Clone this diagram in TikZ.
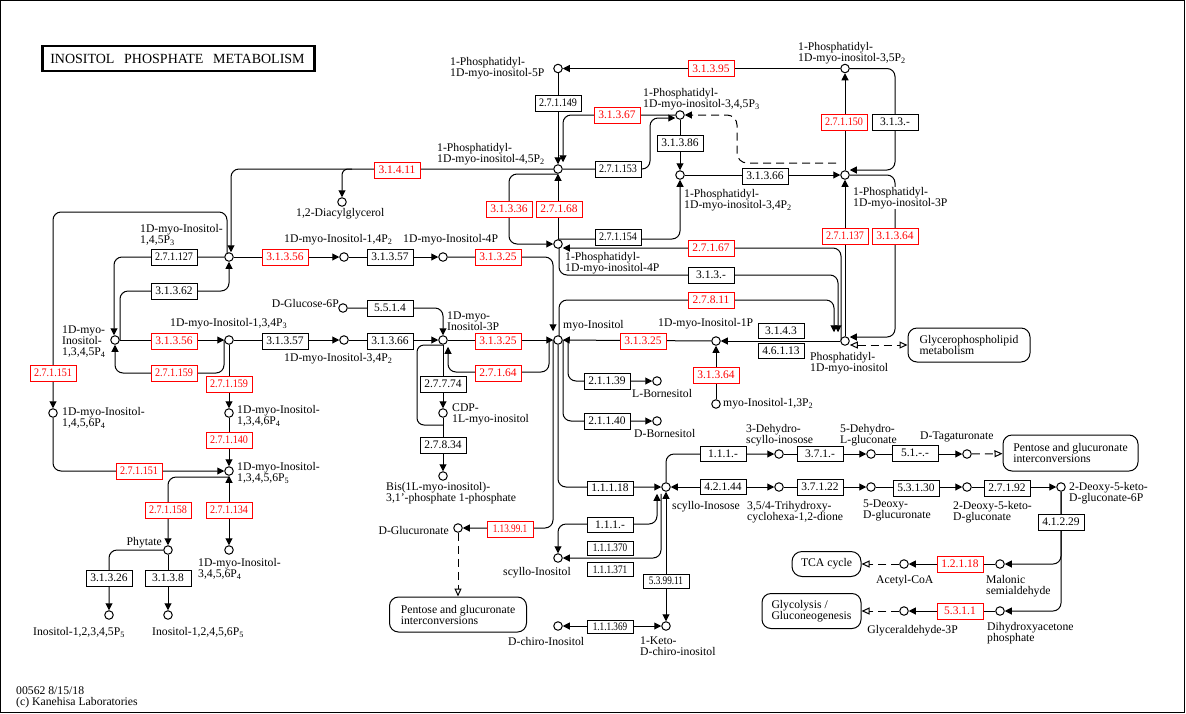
\documentclass[tikz,border=0pt]{standalone}
\usepackage{fontspec}
\setmainfont{Liberation Serif}
\newfontfamily\ecsixf[FakeStretch=0.88]{Liberation Serif}
\newfontfamily\ecsevf[FakeStretch=0.8]{Liberation Serif}
\usetikzlibrary{arrows.meta}
\pgfdeclarelayer{bg}
\pgfsetlayers{bg,main}
\newcommand\lblf{\fontsize{11.7}{11}\selectfont}
\newcommand\ecf{\fontsize{11.5}{12}\selectfont}
\newcommand\ecsixfont{\ecsixf\fontsize{11.5}{12}\selectfont}
\newcommand\ecsevfont{\ecsevf\fontsize{11.5}{12}\selectfont}
\newcommand\sbs[1]{\textsubscript{#1}}
\definecolor{kred}{RGB}{255,0,0}
\tikzset{
  >={Triangle[length=7pt,width=7pt]},
  cpd/.style={circle, draw, line width=1pt, fill=white, minimum size=8.5pt, inner sep=0pt},
  enz/.style={rectangle, draw, line width=1pt, fill=white, minimum width=46pt, minimum height=16pt, inner sep=0pt, font=\ecf},
  enzr/.style={enz, draw=kred, text=kred},
  ecsix/.style={font=\ecsixfont},
  ecsev/.style={font=\ecsevfont},
  lbl/.style={inner sep=0pt, font=\lblf, align=left},
  lblr/.style={inner sep=0pt, font=\lblf, align=right},
  mapn/.style={rectangle, rounded corners=9pt, draw, line width=1pt, fill=white, inner sep=0pt, font=\lblf, align=left},
  ln/.style={line width=1pt},
  arr/.style={ln, ->},
  arrb/.style={ln, <->},
  arrs/.style={ln, <-},
  dasharr/.style={ln, dash pattern=on 8pt off 5pt, ->},
  darr/.style={ln, dash pattern=on 8pt off 5pt, -{Triangle[open,length=8pt,width=7pt]}},
  darrb/.style={ln, dash pattern=on 8pt off 5pt, {Triangle[open,length=8pt,width=7pt]}-{Triangle[open,length=8pt,width=7pt]}},
  titlebox/.style={draw, line width=2.5pt, inner xsep=8pt, inner ysep=0pt, text width=256pt, minimum height=25pt, align=left, font=\fontsize{14}{14}\selectfont}
}
\begin{document}
\begin{tikzpicture}[x=1pt,y=-1pt]
\useasboundingbox (0,0) rectangle (1186,713);
\draw[line width=1pt] (0.5,0.5) rectangle (1184.5,712.3);
\node[titlebox, anchor=west] (title) at (41,58.5) {\mbox{INOSITOL\hspace{5pt} PHOSPHATE\hspace{5pt} METABOLISM}};

% ---------- compounds ----------
\node[cpd] (c5P) at (558,68.5) {};
\node[cpd] (c35P2) at (845,68.5) {};
\node[cpd] (c345P3) at (680,115) {};
\node[cpd] (c45P2) at (558,169) {};
\node[cpd] (c34P2) at (680,175) {};
\node[cpd] (c3P) at (845,175) {};
\node[cpd] (c4P) at (558,244) {};
\node[cpd] (cMI) at (558,340) {};
\node[cpd] (cPI) at (845,341) {};
\node[cpd] (cI1P) at (716,341) {};
\node[cpd] (cI13P2) at (716,404) {};
\node[cpd] (cLB) at (657,381) {};
\node[cpd] (cDB) at (657,421) {};
\node[cpd] (cI3P) at (443,340) {};
\node[cpd] (cI4P) at (443,257) {};
\node[cpd] (cI14P2) at (344,257) {};
\node[cpd] (cI145P3) at (229,257) {};
\node[cpd] (cG6P) at (343,308) {};
\node[cpd] (cI34P2) at (344,340) {};
\node[cpd] (cI134P3) at (229,340) {};
\node[cpd] (cI1345P4) at (115,340) {};
\node[cpd] (cI1456P4) at (53,413) {};
\node[cpd] (cI1346P4) at (229,413) {};
\node[cpd] (cI13456P5) at (229,471) {};
\node[cpd] (cCDP) at (443,413) {};
\node[cpd] (cBis) at (443,476) {};
\node[cpd] (cPhy) at (168,550) {};
\node[cpd] (cI3456P4) at (229,550) {};
\node[cpd] (cIP5a) at (109,615) {};
\node[cpd] (cIP5b) at (168,615) {};
\node[cpd] (cDAG) at (342,202) {};
\node[cpd] (cGlcA) at (458,528) {};
\node[cpd] (cSI) at (558,558) {};
\node[cpd] (cDCI) at (558,626) {};
\node[cpd] (cSIs) at (666,487) {};
\node[cpd] (cKDCI) at (666,626) {};
\node[cpd] (cDHSI) at (779,454) {};
\node[cpd] (cDHLG) at (871,454) {};
\node[cpd] (cTag) at (967,454) {};
\node[cpd] (cTHC) at (779,487) {};
\node[cpd] (cDDG) at (871,487) {};
\node[cpd] (cDKG) at (967,487) {};
\node[cpd] (cDKG6P) at (1061,487) {};
\node[cpd] (cAcCoA) at (904,564) {};
\node[cpd] (cMSA) at (1000,564) {};
\node[cpd] (cGAP) at (904,611) {};
\node[cpd] (cDHAP) at (1000,611) {};

% ---------- maps ----------
\node[mapn, minimum width=122pt, minimum height=34pt] (mGPL) at (969,345) {Glycerophospholipid\\metabolism};
\node[mapn, minimum width=135pt, minimum height=36pt] (mPGI1) at (1070.5,453) {Pentose and glucuronate\\interconversions};
\node[mapn, minimum width=137pt, minimum height=35pt] (mPGI2) at (458,614.5) {Pentose and glucuronate\\interconversions};
\node[mapn, minimum width=69pt, minimum height=25pt, rounded corners=10pt] (mTCA) at (826.5,564) {TCA cycle};
\node[mapn, minimum width=99pt, minimum height=35pt] (mGly) at (811.5,611) {Glycolysis /\\Gluconeogenesis};

% ---------- junction coordinates ----------
\coordinate (d3P) at (836,163);
\coordinate (jDAG) at (352,169);
\coordinate (j37) at (549,340);
\coordinate (j39) at (443,425);

% ---------- connectors ----------
\begin{pgfonlayer}{bg}
\draw[arr] (c35P2) -- (c5P);
\draw[arr] (c5P) -- (c45P2);
\draw[arr, rounded corners=8pt] (c345P3) -- (563,115) -- ([xshift=5pt,yshift=2pt]c45P2.north);
\draw[arr, rounded corners=8pt] (c45P2) -- (650,169) -- (650,118) -- ([yshift=-3pt]c345P3.west);
\draw[arr] (c345P3) -- (c34P2);
\draw[arr] (c34P2) -- (c3P);
\draw[dasharr, rounded corners=10pt] (d3P) -- (737,163) -- (737,115) -- (c345P3);
\draw[arr] (c3P) -- (c35P2);
\draw[arr, rounded corners=8pt] (c35P2) -- (895,68.5) -- (895,170) -- ([yshift=5pt]c3P.east);
\draw[arr, rounded corners=8pt] (c3P) -- (895,175) -- (895,337) -- ([yshift=4pt]cPI.east);
\draw[arr] (cPI) -- (c3P);
\draw[arr, rounded corners=8pt] ([yshift=-5pt]c45P2.center) -- (509,174) -- (509,244) -- (c4P);
\draw[arr] (c4P) -- (c45P2);
\draw[arr, rounded corners=8pt] ([yshift=5pt]c4P.center) -- (680,239) -- (c34P2);
\draw[arr, rounded corners=8pt] ([xshift=-4pt]cPI.center) -- (841,248) -- ([yshift=-4pt]c4P.east);
\draw[arr, rounded corners=8pt] ([xshift=1pt]c4P.center) -- (559,275) -- (838,275) -- ([xshift=-7pt,yshift=4pt]cPI.north);
\draw[arr, rounded corners=8pt] ([xshift=1pt]cMI.center) -- (559,300) -- (834,300) -- ([xshift=-11pt,yshift=4pt]cPI.north);
\draw[darrb] ([yshift=-4pt]cPI.east) -- (mGPL.west);
\draw[arr, rounded corners=8pt] (c45P2) -- (231,169) -- ([xshift=2pt]cI145P3.north);
\draw[arr, rounded corners=6pt] (jDAG) -- (342,169) -- (cDAG);
\draw[arr, rounded corners=8pt] ([xshift=-2pt]cI145P3.center) -- (227,212) -- (53,212) -- (cI1456P4);
\draw[arr, rounded corners=8pt] (cI145P3) -- (114,257) -- ([xshift=-1pt]cI1345P4.north);
\draw[arr, rounded corners=8pt] ([xshift=5pt]cI1345P4.center) -- (120,291) -- (229,291) -- (cI145P3);
\draw[arr] (cI1345P4) -- (cI134P3);
\draw[arr, rounded corners=8pt] ([xshift=-5pt]cI134P3.center) -- (224,373) -- (115,373) -- (cI1345P4);
\draw[arr] (cI134P3) -- (cI1346P4);
\draw[arr] (cI1346P4) -- (cI13456P5);
\draw[arr, rounded corners=8pt] (cI1456P4) -- (53,471) -- (cI13456P5);
\draw[arr, rounded corners=8pt] ([yshift=-6pt]cI13456P5.center) -- (168,477) -- (cPhy);
\draw[arrb] (cI13456P5) -- (cI3456P4);
\draw[arr, rounded corners=8pt] (cPhy) -- (109,550) -- (cIP5a);
\draw[arr] (cPhy) -- (cIP5b);
\draw[arr] (cI145P3) -- (cI14P2);
\draw[arr] (cI14P2) -- (cI4P);
\draw[arr, rounded corners=8pt] (cI4P) -- (553,257) -- ([xshift=-5pt,yshift=4pt]cMI.north);
\draw[arr, rounded corners=8pt] (cG6P) -- (443,308) -- (cI3P);
\draw[arr] (cI134P3) -- (cI34P2);
\draw[arr] (cI34P2) -- (cI3P);
\draw[arr] (cI3P) -- (cMI);
\draw[arr, rounded corners=8pt] (j37) -- (549,372) -- (448,372) -- ([xshift=5pt,yshift=-2pt]cI3P.south);
\draw[arr] (cI3P) -- (cCDP);
\draw[arr] (cCDP) -- (cBis);
\draw[ln, rounded corners=7pt] ([yshift=-5pt]cI3P.center) -- (417,345) -- (417,425) -- (j39);
\draw[arr] (cI1P) -- (cMI);
\draw[arr] (cPI) -- (cI1P);
\draw[arr] (cI13P2) -- (cI1P);
\draw[arr, rounded corners=8pt] ([xshift=10pt]cMI.center) -- (568,381) -- (cLB);
\draw[arr, rounded corners=8pt] ([xshift=5pt]cMI.center) -- (563,421) -- (cDB);
\draw[arr, rounded corners=8pt] ([xshift=-5pt]cMI.center) -- (553,528) -- (cGlcA);
\draw[arr, rounded corners=8pt] (cMI) -- (558,487) -- (cSIs);
\draw[arrb, rounded corners=8pt] (cSI) -- (558,524) -- (657,524) -- ([xshift=-9pt,yshift=-2pt]cSIs.south);
\draw[arrs, rounded corners=8pt] (cSI) -- (661,558) -- ([xshift=-5pt,yshift=-2pt]cSIs.south);
\draw[arrb] (cSIs) -- (cKDCI);
\draw[arrb] (cKDCI) -- (cDCI);
\draw[arrb] (cSIs) -- (cTHC);
\draw[arr, rounded corners=8pt] (cSIs) -- (666,454) -- (cDHSI);
\draw[arr] (cDHSI) -- (cDHLG);
\draw[arr] (cDHLG) -- (cTag);
\draw[darr] (cTag) -- (mPGI1);
\draw[arr] (cTHC) -- (cDDG);
\draw[arr] (cDDG) -- (cDKG);
\draw[arr] (cDKG) -- (cDKG6P);
\draw[arr, rounded corners=8pt] (cDKG6P) -- (1061,564) -- (cMSA);
\draw[arr, rounded corners=8pt] (cDKG6P) -- (1061,611) -- (cDHAP);
\draw[arr] (cMSA) -- (cAcCoA);
\draw[arr] (cDHAP) -- (cGAP);
\draw[darr] (cAcCoA) -- (mTCA);
\draw[darr] (cGAP) -- (mGly);
\draw[darr] (cGlcA) -- (mPGI2);
\end{pgfonlayer}

% ---------- enzymes ----------
\node[enz, ecsix] (e1) at (558,103) {2.7.1.149};
\node[enzr] (e2) at (617,115) {3.1.3.67};
\node[enz, ecsix] (e3) at (618,169) {2.7.1.153};
\node[enz] (e4) at (680,143) {3.1.3.86};
\node[enz] (e5) at (765,176) {3.1.3.66};
\node[enzr] (e6) at (711,68.5) {3.1.3.95};
\node[enzr, ecsix] (e7) at (844,122) {2.7.1.150};
\node[enz] (e8) at (895,122) {3.1.3.-};
\node[enzr] (e9) at (895,236) {3.1.3.64};
\node[enzr, ecsix] (e10) at (845,236) {2.7.1.137};
\node[enzr] (e11) at (509,209) {3.1.3.36};
\node[enzr] (e12) at (559,209) {2.7.1.68};
\node[enz, ecsix] (e13) at (618,237) {2.7.1.154};
\node[enzr] (e14) at (711,248) {2.7.1.67};
\node[enz] (e15) at (711,275) {3.1.3.-};
\node[enzr] (e16) at (711,300) {2.7.8.11};
\node[enzr] (e17) at (397,170) {3.1.4.11};
\node[enz, ecsix] (e18) at (174,257) {2.7.1.127};
\node[enz] (e19) at (174,291) {3.1.3.62};
\node[enzr] (e20) at (174,341) {3.1.3.56};
\node[enzr, ecsix] (e21) at (174,373) {2.7.1.159};
\node[enzr, ecsix] (e22) at (229,384) {2.7.1.159};
\node[enzr, ecsix] (e23) at (229,440) {2.7.1.140};
\node[enzr, ecsix] (e24) at (53,373) {2.7.1.151};
\node[enzr, ecsix] (e25) at (139,471) {2.7.1.151};
\node[enzr, ecsix] (e26) at (168,510) {2.7.1.158};
\node[enzr, ecsix] (e27) at (229,510) {2.7.1.134};
\node[enz] (e28) at (109,578) {3.1.3.26};
\node[enz] (e29) at (168,578) {3.1.3.8};
\node[enzr] (e30) at (285,257) {3.1.3.56};
\node[enz] (e31) at (390,257) {3.1.3.57};
\node[enzr] (e32) at (498,257) {3.1.3.25};
\node[enz] (e33) at (390,308) {5.5.1.4};
\node[enz] (e34) at (285,341) {3.1.3.57};
\node[enz] (e35) at (390,341) {3.1.3.66};
\node[enzr] (e36) at (498,341) {3.1.3.25};
\node[enzr] (e37) at (498,373) {2.7.1.64};
\node[enz] (e38) at (443,384) {2.7.7.74};
\node[enz] (e39) at (443,445) {2.7.8.34};
\node[enzr] (e40) at (643,341) {3.1.3.25};
\node[enz, minimum height=15pt] (e41) at (781,331) {3.1.4.3};
\node[enz, minimum height=15pt] (e42) at (781,351) {4.6.1.13};
\node[enzr] (e43) at (716,375) {3.1.3.64};
\node[enz] (e44) at (607,381) {2.1.1.39};
\node[enz] (e45) at (607,421) {2.1.1.40};
\node[enzr, ecsev] (e46) at (510,529) {1.13.99.1};
\node[enz, minimum height=14pt] (e47) at (610,488) {1.1.1.18};
\node[enz, minimum height=15pt] (e48) at (610,525) {1.1.1.-};
\node[enz, ecsev, minimum height=14pt] (e49) at (610,548) {1.1.1.370};
\node[enz, ecsev, minimum height=14pt] (e50) at (610,569.5) {1.1.1.371};
\node[enz, ecsev, minimum height=14pt] (e51) at (666,581) {5.3.99.11};
\node[enz, ecsev, minimum height=13pt] (e52) at (610,627) {1.1.1.369};
\node[enz, minimum height=15pt] (e53) at (723,487) {4.2.1.44};
\node[enz, minimum height=15pt] (e54) at (723,454) {1.1.1.-};
\node[enz, minimum height=15pt] (e55) at (820,454) {3.7.1.-};
\node[enz] (e56) at (915,453) {5.1.-.-};
\node[enz] (e57) at (820,487) {3.7.1.22};
\node[enz] (e58) at (916,488) {5.3.1.30};
\node[enz] (e59) at (1007,488) {2.7.1.92};
\node[enz] (e60) at (1061,522) {4.1.2.29};
\node[enzr] (e61) at (960,564) {1.2.1.18};
\node[enzr] (e62) at (960,611) {5.3.1.1};

% ---------- labels ----------
\node[lbl, anchor=north west] (l5P) at (450,57) {1-Phosphatidyl-\\1D-myo-inositol-5P};
\node[lbl, anchor=north west] (l35P2) at (798,42) {1-Phosphatidyl-\\1D-myo-inositol-3,5P\sbs{2}};
\node[lbl, anchor=north west] (l345P3) at (643,88) {1-Phosphatidyl-\\1D-myo-inositol-3,4,5P\sbs{3}};
\node[lbl, anchor=north west] (l45P2) at (437,143) {1-Phosphatidyl-\\1D-myo-inositol-4,5P\sbs{2}};
\node[lbl, anchor=north west] (l34P2) at (684,189) {1-Phosphatidyl-\\1D-myo-inositol-3,4P\sbs{2}};
\node[lbl, anchor=north west, fill=white] (l3P) at (853,187) {1-Phosphatidyl-\\1D-myo-inositol-3P};
\node[lbl, anchor=north west] (l4P) at (565,252) {1-Phosphatidyl-\\1D-myo-inositol-4P};
\node[lbl, anchor=north west] (lMI) at (563,320) {myo-Inositol};
\node[lbl, anchor=north west] (lPI) at (810,352) {Phosphatidyl-\\1D-myo-inositol};
\node[lbl, anchor=north west] (lI1P) at (658,318) {1D-myo-Inositol-1P};
\node[lbl, anchor=north west] (lI13P2) at (723,398) {myo-Inositol-1,3P\sbs{2}};
\node[lbl, anchor=north west] (lLB) at (632,389) {L-Bornesitol};
\node[lbl, anchor=north west] (lDB) at (634,429) {D-Bornesitol};
\node[lbl, anchor=north west] (lI3P) at (447,312) {1D-myo-\\Inositol-3P};
\node[lbl, anchor=north west] (lI4P) at (403,234) {1D-myo-Inositol-4P};
\node[lbl, anchor=north west] (lI14P2) at (284,234) {1D-myo-Inositol-1,4P\sbs{2}};
\node[lbl, anchor=north west] (lI145P3) at (140,224) {1D-myo-Inositol-\\1,4,5P\sbs{3}};
\node[lblr, anchor=north east] (lG6P) at (339,299) {D-Glucose-6P};
\node[lbl, anchor=north west] (lI34P2) at (284,353) {1D-myo-Inositol-3,4P\sbs{2}};
\node[lbl, anchor=north west] (lI134P3) at (170,318) {1D-myo-Inositol-1,3,4P\sbs{3}};
\node[lbl, anchor=north west] (lI1345P4) at (62,326) {1D-myo-\\Inositol-\\1,3,4,5P\sbs{4}};
\node[lbl, anchor=north west] (lI1456P4) at (62,407) {1D-myo-Inositol-\\1,4,5,6P\sbs{4}};
\node[lbl, anchor=north west] (lI1346P4) at (237,405) {1D-myo-Inositol-\\1,3,4,6P\sbs{4}};
\node[lbl, anchor=north west] (lI13456P5) at (237,462) {1D-myo-Inositol-\\1,3,4,5,6P\sbs{5}};
\node[lblr, anchor=north east] (lPhy) at (162,537) {Phytate};
\node[lbl, anchor=north west] (lI3456P4) at (198,558) {1D-myo-Inositol-\\3,4,5,6P\sbs{4}};
\node[lbl, anchor=north west] (lIP5a) at (33,627) {Inositol-1,2,3,4,5P\sbs{5}};
\node[lbl, anchor=north west] (lIP5b) at (152,627) {Inositol-1,2,4,5,6P\sbs{5}};
\node[lbl, anchor=north west] (lDAG) at (296,208) {1,2-Diacylglycerol};
\node[lbl, anchor=north west] (lCDP) at (452,404) {CDP-\\1L-myo-inositol};
\node[lbl, anchor=north west] (lBis) at (386,482) {Bis(1L-myo-inositol)-\\3,1'-phosphate 1-phosphate};
\node[lblr, anchor=north east] (lGlcA) at (449,526) {D-Glucuronate};
\node[lbl, anchor=north west] (lSI) at (503,567) {scyllo-Inositol};
\node[lbl, anchor=north west] (lDCI) at (508,637) {D-chiro-Inositol};
\node[lbl, anchor=north west] (lSIs) at (672,501) {scyllo-Inosose};
\node[lbl, anchor=north west] (lKDCI) at (640,637) {1-Keto-\\D-chiro-inositol};
\node[lbl, anchor=north west] (lDHSI) at (746,424) {3-Dehydro-\\scyllo-inosose};
\node[lbl, anchor=north west] (lDHLG) at (840,424) {5-Dehydro-\\L-gluconate};
\node[lbl, anchor=north west] (lTag) at (920,432) {D-Tagaturonate};
\node[lbl, anchor=north west] (lTHC) at (747,501) {3,5/4-Trihydroxy-\\cyclohexa-1,2-dione};
\node[lbl, anchor=north west] (lDDG) at (863,500) {5-Deoxy-\\D-glucuronate};
\node[lbl, anchor=north west] (lDKG) at (953,501) {2-Deoxy-5-keto-\\D-gluconate};
\node[lbl, anchor=north west] (lDKG6P) at (1069,482) {2-Deoxy-5-keto-\\D-gluconate-6P};
\node[lbl, anchor=north west] (lAcCoA) at (876,575) {Acetyl-CoA};
\node[lbl, anchor=north west] (lMSA) at (986,575) {Malonic\\semialdehyde};
\node[lblr, anchor=north east] (lGAP) at (958,625) {Glyceraldehyde-3P};
\node[lbl, anchor=north west] (lDHAP) at (987,622) {Dihydroxyacetone\\phosphate};
\node[lbl, anchor=north west] (foot) at (16,687) {00562 8/15/18\\(c) Kanehisa Laboratories};
\end{tikzpicture}
\end{document}
